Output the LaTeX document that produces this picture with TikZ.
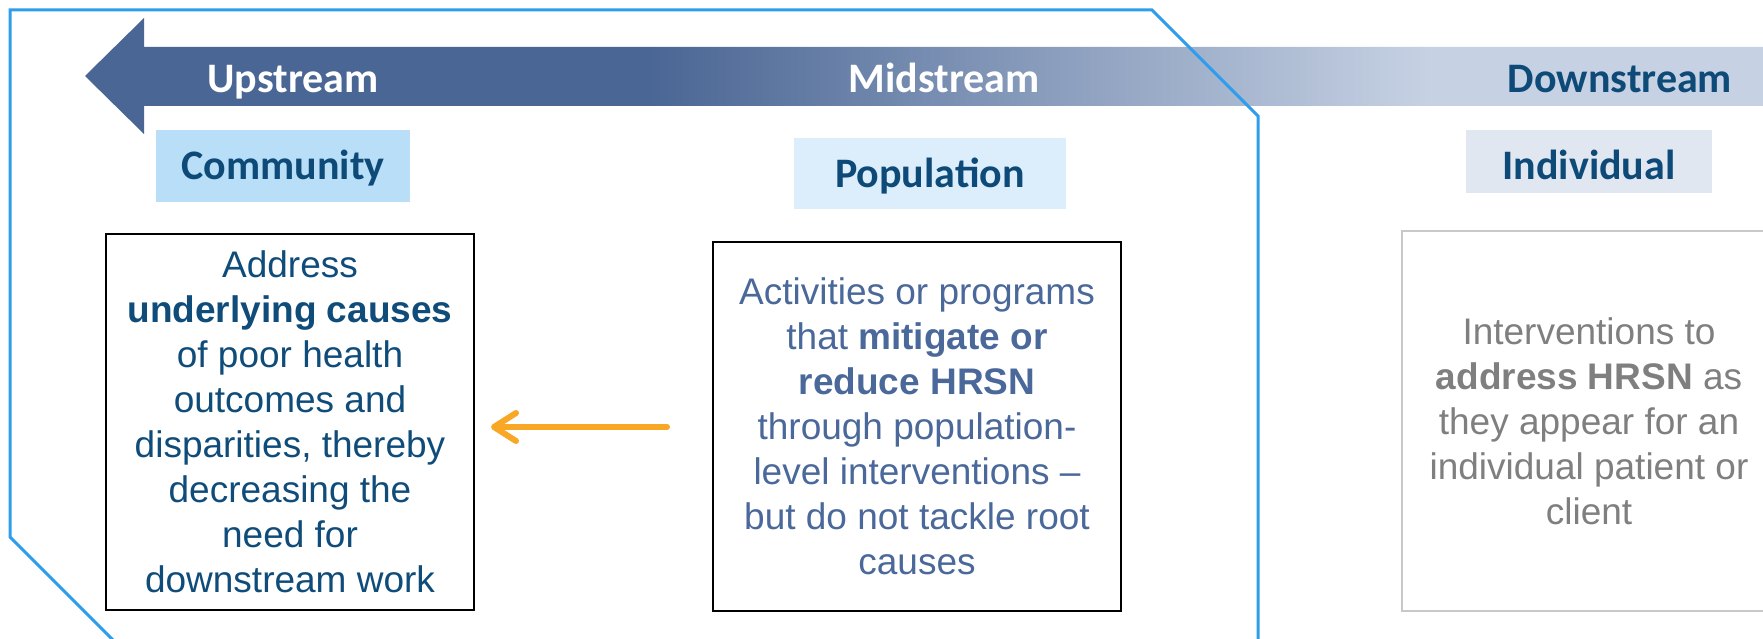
\documentclass[tikz,border=0pt]{standalone}
\usepackage{fontspec}
\setmainfont{Liberation Sans}
\newfontfamily\hdrfont{Carlito}
\usetikzlibrary{arrows.meta}
\definecolor{banddark}{HTML}{4A6694}
\definecolor{bandlight}{HTML}{C6D1E3}
\definecolor{outlineblue}{HTML}{2E9DEB}
\definecolor{hdrblue}{HTML}{0E4A78}
\definecolor{commfill}{HTML}{B9DEF8}
\definecolor{popfill}{HTML}{DCEEFB}
\definecolor{indfill}{HTML}{E1E7F0}
\definecolor{lefttext}{HTML}{0F4C7A}
\definecolor{midtext}{HTML}{4A689A}
\definecolor{righttext}{HTML}{7F7F7F}
\definecolor{graybox}{HTML}{C8C8C8}
\definecolor{arroworange}{HTML}{F8A825}
\pgfdeclarehorizontalshading{bandshade}{100bp}{color(0bp)=(banddark); color(41.8bp)=(banddark); color(65bp)=(bandlight); color(100bp)=(bandlight)}
\begin{document}
\begin{tikzpicture}[x=1pt,y=-1pt,
  bandlabel/.style={font=\hdrfont\bfseries\fontsize{42}{50}\selectfont, inner sep=0pt, anchor=base},
  hdrbox/.style={font=\hdrfont\bfseries\fontsize{42}{50}\selectfont, text=hdrblue, inner sep=0pt, text height=50pt, anchor=base},
  bodybox/.style={line width=2pt, align=center, font=\fontsize{37}{45}\selectfont, inner sep=0pt},
  orangearrow/.style={draw=arroworange, line width=6pt, line cap=round, -{Straight Barb[length=22pt,width=28pt,round]}}
]
\useasboundingbox (0,0) rectangle (1763,639);
% band arrow (single shaded path)
\shade[shading=bandshade] (85,76) -- (144,18) -- (144,47) -- (1763,47) -- (1763,106) -- (144,106) -- (144,134) -- cycle;
% outline
\draw[outlineblue, line width=3pt, line join=miter] (124,651) -- (10,537) -- (10,10) -- (1152,10) -- (1258,116) -- (1258,651);
% band labels
\node[bandlabel, text=white] (upstream) at (293,93) {Upstream};
\node[bandlabel, text=white] (midstream) at (944,93) {Midstream};
\node[bandlabel, text=hdrblue] (downstream) at (1620,93) {Downstream};
% header boxes
\node[hdrbox, fill=commfill, minimum width=254pt, text depth=22pt] (community) at (283,180) {Community};
\node[hdrbox, fill=popfill, minimum width=272pt, text depth=21pt] (population) at (930,188) {Population};
\node[hdrbox, fill=indfill, minimum width=246pt, text depth=13pt] (individual) at (1589,180) {Individual};
% body boxes
\node[bodybox, draw=black, text=lefttext, minimum width=368pt, minimum height=376pt] (leftbox) at (290,422)
  {Address\\\textbf{underlying causes}\\of poor health\\outcomes and\\disparities, thereby\\decreasing the\\need for\\downstream work};
\node[bodybox, draw=black, text=midtext, minimum width=408pt, minimum height=369pt] (midbox) at (917,426.5)
  {Activities or programs\\that \textbf{mitigate or}\\\textbf{reduce HRSN}\\through population-\\level interventions –\\but do not tackle root\\causes};
\node[bodybox, draw=graybox, text=righttext, minimum width=374pt, minimum height=380pt] (rightbox) at (1589,421)
  {Interventions to\\\textbf{address HRSN} as\\they appear for an\\individual patient or\\client};
% orange arrow
\coordinate (arrowfrom) at (667,427);
\coordinate (arrowto) at (491,427);
\draw[orangearrow] (arrowfrom) -- (arrowto);
\end{tikzpicture}
\end{document}
